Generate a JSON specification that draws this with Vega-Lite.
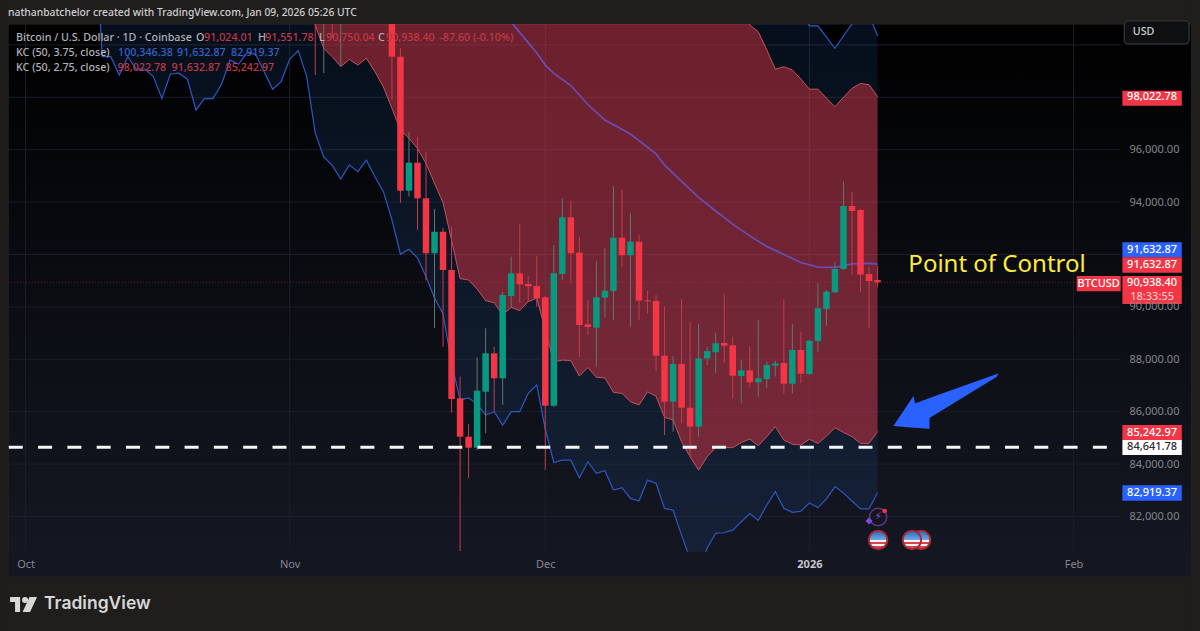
{
  "$schema": "https://vega.github.io/schema/vega-lite/v6.json",
  "width": 1200,
  "height": 631,
  "padding": 0,
  "autosize": {"type": "none"},
  "background": "#1f1e1d",
  "config": {"view": {"stroke": null}},
  "datasets": {
    "candles": [
      {"t":"2025-11-04","open":101256,"close":100950,"high":101500,"low":98851,"dir":"down"},
      {"t":"2025-11-05","open":100950,"close":101300,"high":101600,"low":98927,"dir":"up"},
      {"t":"2025-11-06","open":101523,"close":101141,"high":101700,"low":100263,"dir":"down"},
      {"t":"2025-11-07","open":101141,"close":101408,"high":101700,"low":99195,"dir":"up"},
      {"t":"2025-11-13","open":101256,"close":99550,"high":101600,"low":97897,"dir":"down"},
      {"t":"2025-11-14","open":99550,"close":94435,"high":99882,"low":93966,"dir":"down"},
      {"t":"2025-11-15","open":94435,"close":95504,"high":96687,"low":94206,"dir":"up"},
      {"t":"2025-11-16","open":95504,"close":94145,"high":96496,"low":92935,"dir":"down"},
      {"t":"2025-11-17","open":94145,"close":92046,"high":95924,"low":91027,"dir":"down"},
      {"t":"2025-11-18","open":92046,"close":92870,"high":93737,"low":89195,"dir":"up"},
      {"t":"2025-11-19","open":92870,"close":91408,"high":93011,"low":88481,"dir":"down"},
      {"t":"2025-11-20","open":91408,"close":86485,"high":93061,"low":85962,"dir":"down"},
      {"t":"2025-11-21","open":86511,"close":85046,"high":87336,"low":80683,"dir":"down"},
      {"t":"2025-11-22","open":85046,"close":84626,"high":85531,"low":83458,"dir":"down"},
      {"t":"2025-11-23","open":84626,"close":86802,"high":88076,"low":84538,"dir":"up"},
      {"t":"2025-11-24","open":86763,"close":88229,"high":89183,"low":85176,"dir":"up"},
      {"t":"2025-11-25","open":88229,"close":87275,"high":88481,"low":86000,"dir":"down"},
      {"t":"2025-11-26","open":87275,"close":90454,"high":90580,"low":86256,"dir":"up"},
      {"t":"2025-11-27","open":90416,"close":91282,"high":91916,"low":89958,"dir":"up"},
      {"t":"2025-11-28","open":91282,"close":90863,"high":93164,"low":90149,"dir":"down"},
      {"t":"2025-11-29","open":90874,"close":90786,"high":91179,"low":90199,"dir":"down"},
      {"t":"2025-11-30","open":90798,"close":90328,"high":91943,"low":90008,"dir":"down"},
      {"t":"2025-12-01","open":90366,"close":86229,"high":90416,"low":83775,"dir":"down"},
      {"t":"2025-12-02","open":86229,"close":91282,"high":92363,"low":86179,"dir":"up"},
      {"t":"2025-12-03","open":91256,"close":93420,"high":94145,"low":91027,"dir":"up"},
      {"t":"2025-12-04","open":93420,"close":92046,"high":94053,"low":90901,"dir":"down"},
      {"t":"2025-12-05","open":92069,"close":89309,"high":92679,"low":88099,"dir":"down"},
      {"t":"2025-12-06","open":89336,"close":89233,"high":90263,"low":88928,"dir":"down"},
      {"t":"2025-12-07","open":89206,"close":90366,"high":91725,"low":87718,"dir":"up"},
      {"t":"2025-12-08","open":90351,"close":90618,"high":92237,"low":89603,"dir":"up"},
      {"t":"2025-12-09","open":90607,"close":92641,"high":94615,"low":89500,"dir":"up"},
      {"t":"2025-12-10","open":92641,"close":91970,"high":94462,"low":91534,"dir":"down"},
      {"t":"2025-12-11","open":91970,"close":92489,"high":93573,"low":89244,"dir":"up"},
      {"t":"2025-12-12","open":92489,"close":90237,"high":92744,"low":89500,"dir":"down"},
      {"t":"2025-12-13","open":90252,"close":90214,"high":90607,"low":89756,"dir":"down"},
      {"t":"2025-12-14","open":90225,"close":88137,"high":90454,"low":87553,"dir":"down"},
      {"t":"2025-12-15","open":88137,"close":86382,"high":90015,"low":85111,"dir":"down"},
      {"t":"2025-12-16","open":86382,"close":87821,"high":88126,"low":85237,"dir":"up"},
      {"t":"2025-12-17","open":87821,"close":86153,"high":90290,"low":85569,"dir":"down"},
      {"t":"2025-12-18","open":86153,"close":85427,"high":89435,"low":84282,"dir":"down"},
      {"t":"2025-12-19","open":85427,"close":88038,"high":89347,"low":85046,"dir":"up"},
      {"t":"2025-12-20","open":88038,"close":88317,"high":88481,"low":87782,"dir":"up"},
      {"t":"2025-12-21","open":88267,"close":88611,"high":89015,"low":87466,"dir":"up"},
      {"t":"2025-12-22","open":88622,"close":88519,"high":90519,"low":87847,"dir":"down"},
      {"t":"2025-12-23","open":88534,"close":87374,"high":88863,"low":86511,"dir":"down"},
      {"t":"2025-12-24","open":87363,"close":87580,"high":87973,"low":86321,"dir":"up"},
      {"t":"2025-12-25","open":87580,"close":87122,"high":88508,"low":86893,"dir":"down"},
      {"t":"2025-12-26","open":87122,"close":87275,"high":89500,"low":86572,"dir":"up"},
      {"t":"2025-12-27","open":87248,"close":87782,"high":87908,"low":86893,"dir":"up"},
      {"t":"2025-12-28","open":87756,"close":87847,"high":87947,"low":87336,"dir":"up"},
      {"t":"2025-12-29","open":87859,"close":87069,"high":90290,"low":86676,"dir":"down"},
      {"t":"2025-12-30","open":87069,"close":88355,"high":89347,"low":86702,"dir":"up"},
      {"t":"2025-12-31","open":88355,"close":87450,"high":89053,"low":87084,"dir":"down"},
      {"t":"2026-01-01","open":87439,"close":88710,"high":88737,"low":87401,"dir":"up"},
      {"t":"2026-01-02","open":88698,"close":89947,"high":90901,"low":88290,"dir":"up"},
      {"t":"2026-01-03","open":89920,"close":90580,"high":90645,"low":89271,"dir":"up"},
      {"t":"2026-01-04","open":90557,"close":91447,"high":91725,"low":90531,"dir":"up"},
      {"t":"2026-01-05","open":91447,"close":93851,"high":94779,"low":91408,"dir":"up"},
      {"t":"2026-01-06","open":93851,"close":93660,"high":94397,"low":91218,"dir":"down"},
      {"t":"2026-01-07","open":93699,"close":91229,"high":93737,"low":90580,"dir":"down"},
      {"t":"2026-01-08","open":91256,"close":90989,"high":91534,"low":89183,"dir":"down"},
      {"t":"2026-01-09","open":91024,"close":90938,"high":91552,"low":90750,"dir":"down"}
    ],
    "kc375": [
      {"t":"2025-10-09","lo":105530,"up":108000},
      {"t":"2025-10-10","lo":99550,"up":108000},
      {"t":"2025-10-11","lo":99550,"up":108000},
      {"t":"2025-10-12","lo":98850,"up":108000},
      {"t":"2025-10-13","lo":99550,"up":108000},
      {"t":"2025-10-14","lo":99070,"up":108000},
      {"t":"2025-10-15","lo":99080,"up":108000},
      {"t":"2025-10-16","lo":98790,"up":108000},
      {"t":"2025-10-17","lo":97950,"up":108000},
      {"t":"2025-10-18","lo":98890,"up":108000},
      {"t":"2025-10-19","lo":98920,"up":108000},
      {"t":"2025-10-20","lo":98690,"up":108000},
      {"t":"2025-10-21","lo":97520,"up":108000},
      {"t":"2025-10-22","lo":97950,"up":108000},
      {"t":"2025-10-23","lo":97950,"up":108000},
      {"t":"2025-10-24","lo":98500,"up":108000},
      {"t":"2025-10-25","lo":99420,"up":108000},
      {"t":"2025-10-26","lo":99260,"up":108000},
      {"t":"2025-10-27","lo":99700,"up":108000},
      {"t":"2025-10-28","lo":99640,"up":108000},
      {"t":"2025-10-29","lo":98980,"up":108000},
      {"t":"2025-10-30","lo":98310,"up":108000},
      {"t":"2025-10-31","lo":98600,"up":108000},
      {"t":"2025-11-01","lo":99450,"up":108000},
      {"t":"2025-11-02","lo":99780,"up":108000},
      {"t":"2025-11-03","lo":98790,"up":108000},
      {"t":"2025-11-04","lo":96630,"up":108000},
      {"t":"2025-11-05","lo":95720,"up":108000},
      {"t":"2025-11-06","lo":95400,"up":108000},
      {"t":"2025-11-07","lo":94880,"up":108000},
      {"t":"2025-11-08","lo":95420,"up":108000},
      {"t":"2025-11-09","lo":95160,"up":108000},
      {"t":"2025-11-10","lo":95600,"up":108000},
      {"t":"2025-11-11","lo":94970,"up":108000},
      {"t":"2025-11-12","lo":94400,"up":108000},
      {"t":"2025-11-13","lo":93320,"up":108000},
      {"t":"2025-11-14","lo":92010,"up":108000},
      {"t":"2025-11-15","lo":92200,"up":108000},
      {"t":"2025-11-16","lo":91870,"up":108000},
      {"t":"2025-11-17","lo":91150,"up":108000},
      {"t":"2025-11-18","lo":90340,"up":108000},
      {"t":"2025-11-19","lo":89730,"up":108000},
      {"t":"2025-11-20","lo":87860,"up":108000},
      {"t":"2025-11-21","lo":86450,"up":108000},
      {"t":"2025-11-22","lo":86530,"up":108000},
      {"t":"2025-11-23","lo":86290,"up":108000},
      {"t":"2025-11-24","lo":85870,"up":108000},
      {"t":"2025-11-25","lo":86000,"up":108000},
      {"t":"2025-11-26","lo":85490,"up":108000},
      {"t":"2025-11-27","lo":86000,"up":108000},
      {"t":"2025-11-28","lo":86000,"up":108000},
      {"t":"2025-11-29","lo":86700,"up":108000},
      {"t":"2025-11-30","lo":87020,"up":108000},
      {"t":"2025-12-01","lo":85340,"up":108000},
      {"t":"2025-12-02","lo":84060,"up":108000},
      {"t":"2025-12-03","lo":84150,"up":108000},
      {"t":"2025-12-04","lo":84150,"up":108000},
      {"t":"2025-12-05","lo":83480,"up":108000},
      {"t":"2025-12-06","lo":84090,"up":108000},
      {"t":"2025-12-07","lo":83650,"up":108000},
      {"t":"2025-12-08","lo":83750,"up":108000},
      {"t":"2025-12-09","lo":83010,"up":108000},
      {"t":"2025-12-10","lo":83100,"up":108000},
      {"t":"2025-12-11","lo":82690,"up":108000},
      {"t":"2025-12-12","lo":82590,"up":108000},
      {"t":"2025-12-13","lo":83390,"up":108000},
      {"t":"2025-12-14","lo":83270,"up":108000},
      {"t":"2025-12-15","lo":82310,"up":108000},
      {"t":"2025-12-16","lo":82240,"up":108000},
      {"t":"2025-12-17","lo":81290,"up":108000},
      {"t":"2025-12-18","lo":80380,"up":108000},
      {"t":"2025-12-19","lo":79770,"up":108000},
      {"t":"2025-12-20","lo":80800,"up":108000},
      {"t":"2025-12-21","lo":81360,"up":108000},
      {"t":"2025-12-22","lo":81380,"up":108000},
      {"t":"2025-12-23","lo":81480,"up":108000},
      {"t":"2025-12-24","lo":81800,"up":108000},
      {"t":"2025-12-25","lo":82110,"up":108000},
      {"t":"2025-12-26","lo":81850,"up":108000},
      {"t":"2025-12-27","lo":82440,"up":108000},
      {"t":"2025-12-28","lo":82950,"up":108000},
      {"t":"2025-12-29","lo":82310,"up":108000},
      {"t":"2025-12-30","lo":82160,"up":108000},
      {"t":"2025-12-31","lo":82200,"up":101330},
      {"t":"2026-01-01","lo":82520,"up":100730},
      {"t":"2026-01-02","lo":82340,"up":100730},
      {"t":"2026-01-03","lo":82670,"up":100300},
      {"t":"2026-01-04","lo":83140,"up":99870},
      {"t":"2026-01-05","lo":82900,"up":100340},
      {"t":"2026-01-06","lo":82590,"up":100800},
      {"t":"2026-01-07","lo":82290,"up":101180},
      {"t":"2026-01-08","lo":82290,"up":101140},
      {"t":"2026-01-09","lo":82919,"up":100346}
    ],
    "kc275": [
      {"t":"2025-11-03","lo":102860,"up":104000},
      {"t":"2025-11-04","lo":100760,"up":104000},
      {"t":"2025-11-05","lo":99870,"up":104000},
      {"t":"2025-11-06","lo":99550,"up":104000},
      {"t":"2025-11-07","lo":99170,"up":104000},
      {"t":"2025-11-08","lo":99450,"up":104000},
      {"t":"2025-11-09","lo":99230,"up":104000},
      {"t":"2025-11-10","lo":99490,"up":104000},
      {"t":"2025-11-11","lo":98980,"up":104000},
      {"t":"2025-11-12","lo":98400,"up":104000},
      {"t":"2025-11-13","lo":97580,"up":104000},
      {"t":"2025-11-14","lo":96750,"up":104000},
      {"t":"2025-11-15","lo":96440,"up":104000},
      {"t":"2025-11-16","lo":96050,"up":104000},
      {"t":"2025-11-17","lo":95480,"up":104000},
      {"t":"2025-11-18","lo":94720,"up":104000},
      {"t":"2025-11-19","lo":93980,"up":104000},
      {"t":"2025-11-20","lo":92550,"up":104000},
      {"t":"2025-11-21","lo":91080,"up":104000},
      {"t":"2025-11-22","lo":91030,"up":104000},
      {"t":"2025-11-23","lo":90680,"up":104000},
      {"t":"2025-11-24","lo":90240,"up":104000},
      {"t":"2025-11-25","lo":90160,"up":104000},
      {"t":"2025-11-26","lo":89690,"up":104000},
      {"t":"2025-11-27","lo":89980,"up":104000},
      {"t":"2025-11-28","lo":89860,"up":104000},
      {"t":"2025-11-29","lo":90200,"up":104000},
      {"t":"2025-11-30","lo":90330,"up":104000},
      {"t":"2025-12-01","lo":89120,"up":104000},
      {"t":"2025-12-02","lo":87900,"up":104000},
      {"t":"2025-12-03","lo":87970,"up":104000},
      {"t":"2025-12-04","lo":87950,"up":104000},
      {"t":"2025-12-05","lo":87360,"up":104000},
      {"t":"2025-12-06","lo":87690,"up":104000},
      {"t":"2025-12-07","lo":87310,"up":104000},
      {"t":"2025-12-08","lo":87290,"up":104000},
      {"t":"2025-12-09","lo":86740,"up":104000},
      {"t":"2025-12-10","lo":86700,"up":104000},
      {"t":"2025-12-11","lo":86380,"up":104000},
      {"t":"2025-12-12","lo":86260,"up":104000},
      {"t":"2025-12-13","lo":86760,"up":104000},
      {"t":"2025-12-14","lo":86590,"up":104000},
      {"t":"2025-12-15","lo":85790,"up":104000},
      {"t":"2025-12-16","lo":85680,"up":104000},
      {"t":"2025-12-17","lo":84850,"up":104000},
      {"t":"2025-12-18","lo":84280,"up":104000},
      {"t":"2025-12-19","lo":83770,"up":104000},
      {"t":"2025-12-20","lo":84280,"up":104000},
      {"t":"2025-12-21","lo":84630,"up":104000},
      {"t":"2025-12-22","lo":84630,"up":104000},
      {"t":"2025-12-23","lo":84630,"up":104000},
      {"t":"2025-12-24","lo":84820,"up":101450},
      {"t":"2025-12-25","lo":84960,"up":100760},
      {"t":"2025-12-26","lo":84700,"up":100500},
      {"t":"2025-12-27","lo":85050,"up":99810},
      {"t":"2025-12-28","lo":85430,"up":99070},
      {"t":"2025-12-29","lo":84920,"up":99170},
      {"t":"2025-12-30","lo":84760,"up":99040},
      {"t":"2025-12-31","lo":84730,"up":98700},
      {"t":"2026-01-01","lo":84950,"up":98310},
      {"t":"2026-01-02","lo":84790,"up":98310},
      {"t":"2026-01-03","lo":85070,"up":97970},
      {"t":"2026-01-04","lo":85390,"up":97640},
      {"t":"2026-01-05","lo":85210,"up":98000},
      {"t":"2026-01-06","lo":85050,"up":98340},
      {"t":"2026-01-07","lo":84790,"up":98530},
      {"t":"2026-01-08","lo":84790,"up":98480},
      {"t":"2026-01-09","lo":85243,"up":98023}
    ],
    "basis": [
      {"t":"2025-11-27","p":100870},
      {"t":"2025-11-30","p":99690},
      {"t":"2025-12-01","p":99230},
      {"t":"2025-12-02","p":98910},
      {"t":"2025-12-04","p":98450},
      {"t":"2025-12-06","p":97725},
      {"t":"2025-12-08","p":97130},
      {"t":"2025-12-11","p":96600},
      {"t":"2025-12-14","p":95840},
      {"t":"2025-12-15","p":95420},
      {"t":"2025-12-17","p":94790},
      {"t":"2025-12-19","p":94180},
      {"t":"2025-12-21","p":93660},
      {"t":"2025-12-23","p":93160},
      {"t":"2025-12-25","p":92710},
      {"t":"2025-12-27","p":92310},
      {"t":"2025-12-29","p":92000},
      {"t":"2025-12-31","p":91695},
      {"t":"2026-01-02","p":91520},
      {"t":"2026-01-04","p":91510},
      {"t":"2026-01-06","p":91640},
      {"t":"2026-01-08","p":91660},
      {"t":"2026-01-09","p":91633}
    ]
  },
  "layer": [
    {
      "data": {"values": [{"t":"2025-09-28T22:42:00Z","t2":"2026-02-14T21:00:00Z","p":100798,"p2":79691}]},
      "mark": {"type": "rect", "stroke": "#2b2b2b", "strokeWidth": 1, "color": {"x1": 0, "y1": 0, "x2": 0, "y2": 1, "gradient": "linear", "stops": [{"offset": 0, "color": "#000000"}, {"offset": 0.5, "color": "#0b0d13"}, {"offset": 1, "color": "#151823"}]}},
      "encoding": {
        "x": {"field": "t", "type": "temporal", "scale": {"type": "utc", "domain": [1759017600000, 1771186608000], "padding": 0},
          "axis": {"title": null, "orient": "bottom", "offset": -79.3, "domain": false, "ticks": false, "grid": false, "values": [1759276800000, 1761955200000, 1764547200000, 1767225600000, 1769904000000],
            "labelExpr": "utcmonth(datum.value) == 0 ? '2026' : utcFormat(datum.value, '%b')", "labelFont": "Noto Sans", "labelFontSize": 11, "labelPadding": 7, "labelOverlap": false, "labelFlush": false,
            "labelColor": {"condition": {"test": "utcmonth(datum.value) == 0", "value": "#c4c5c9"}, "value": "#85868c"},
            "labelFontWeight": {"condition": {"test": "utcmonth(datum.value) == 0", "value": 700}, "value": 400}, "zindex": 1}},
        "x2": {"field": "t2"},
        "y": {"field": "p", "type": "quantitative", "scale": {"domain": [77630, 101714], "zero": false, "nice": false},
          "axis": {"title": null, "orient": "right", "offset": -83, "domain": false, "ticks": false, "grid": false, "values": [82000, 84000, 86000, 88000, 90000, 94000, 96000],
            "format": ",.2f", "labelFont": "Noto Sans", "labelFontSize": 11, "labelColor": "#85868c", "labelPadding": 12, "labelAlign": "left", "labelOverlap": false, "labelFlush": false, "zindex": 1}},
        "y2": {"field": "p2"}
      }
    },
    {
      "data": {"values": [
        {"t":"2025-09-28T22:42:00Z","t2":"2026-02-06T13:00:00Z","p":82000},
        {"t":"2025-09-28T22:42:00Z","t2":"2026-02-06T13:00:00Z","p":84000},
        {"t":"2025-09-28T22:42:00Z","t2":"2026-02-06T13:00:00Z","p":86000},
        {"t":"2025-09-28T22:42:00Z","t2":"2026-02-06T13:00:00Z","p":88000},
        {"t":"2025-09-28T22:42:00Z","t2":"2026-02-06T13:00:00Z","p":90000},
        {"t":"2025-09-28T22:42:00Z","t2":"2026-02-06T13:00:00Z","p":92000},
        {"t":"2025-09-28T22:42:00Z","t2":"2026-02-06T13:00:00Z","p":94000},
        {"t":"2025-09-28T22:42:00Z","t2":"2026-02-06T13:00:00Z","p":96000},
        {"t":"2025-09-28T22:42:00Z","t2":"2026-02-06T13:00:00Z","p":98000},
        {"t":"2025-09-28T22:42:00Z","t2":"2026-02-06T13:00:00Z","p":100000}
      ]},
      "mark": {"type": "rule", "color": "#1c1f29", "strokeWidth": 1},
      "encoding": {"x": {"field": "t", "type": "temporal"}, "x2": {"field": "t2"}, "y": {"field": "p", "type": "quantitative"}}
    },
    {
      "data": {"values": [
        {"t":"2025-10-01T00:00:00Z","p":100798,"p2":80656},
        {"t":"2025-11-01T00:00:00Z","p":100798,"p2":80656},
        {"t":"2025-12-01T00:00:00Z","p":100798,"p2":80656},
        {"t":"2026-01-01T00:00:00Z","p":100798,"p2":80656},
        {"t":"2026-02-01T00:00:00Z","p":100798,"p2":80656}
      ]},
      "mark": {"type": "rule", "color": "#1c1f29", "strokeWidth": 1},
      "encoding": {"x": {"field": "t", "type": "temporal"}, "y": {"field": "p", "type": "quantitative"}, "y2": {"field": "p2"}}
    },
    {
      "data": {"name": "kc375"},
      "mark": {"type": "area", "color": "#1e4a86", "opacity": 0.2},
      "encoding": {"x": {"field": "t", "type": "temporal"}, "y": {"field": "lo", "type": "quantitative"}, "y2": {"field": "up"}}
    },
    {
      "data": {"name": "kc275"},
      "mark": {"type": "area", "color": "#f23645", "opacity": 0.44},
      "encoding": {"x": {"field": "t", "type": "temporal"}, "y": {"field": "lo", "type": "quantitative"}, "y2": {"field": "up"}}
    },
    {
      "data": {"name": "kc375"},
      "mark": {"type": "line", "color": "#2f57c4", "strokeWidth": 1.2},
      "encoding": {"x": {"field": "t", "type": "temporal"}, "y": {"field": "lo", "type": "quantitative"}}
    },
    {
      "data": {"name": "kc375"},
      "mark": {"type": "line", "color": "#2f57c4", "strokeWidth": 1.2},
      "encoding": {"x": {"field": "t", "type": "temporal"}, "y": {"field": "up", "type": "quantitative"}}
    },
    {
      "data": {"name": "kc275"},
      "mark": {"type": "line", "color": "#c8505e", "strokeWidth": 1},
      "encoding": {"x": {"field": "t", "type": "temporal"}, "y": {"field": "lo", "type": "quantitative"}}
    },
    {
      "data": {"name": "kc275"},
      "mark": {"type": "line", "color": "#c8505e", "strokeWidth": 1},
      "encoding": {"x": {"field": "t", "type": "temporal"}, "y": {"field": "up", "type": "quantitative"}}
    },
    {
      "data": {"name": "basis"},
      "mark": {"type": "line", "color": "#6a4db5", "strokeWidth": 1.7},
      "encoding": {"x": {"field": "t", "type": "temporal"}, "y": {"field": "p", "type": "quantitative"}}
    },
    {
      "data": {"values": [{"t":"2025-09-28T22:42:00Z","t2":"2026-02-01T09:00:00Z","p":90938}]},
      "mark": {"type": "rule", "color": "#f23645", "opacity": 0.42, "strokeWidth": 1, "strokeDash": [1, 2]},
      "encoding": {"x": {"field": "t", "type": "temporal"}, "x2": {"field": "t2"}, "y": {"field": "p", "type": "quantitative"}}
    },
    {
      "data": {"name": "candles"},
      "mark": {"type": "rule", "strokeWidth": 1},
      "encoding": {
        "x": {"field": "t", "type": "temporal"},
        "y": {"field": "low", "type": "quantitative"},
        "y2": {"field": "high"},
        "color": {"field": "dir", "type": "nominal", "legend": null, "scale": {"domain": ["up", "down"], "range": ["#66756f", "#c33c4c"]}}
      }
    },
    {
      "data": {"name": "candles"},
      "mark": {"type": "bar", "size": 6.5},
      "encoding": {
        "x": {"field": "t", "type": "temporal"},
        "y": {"field": "open", "type": "quantitative"},
        "y2": {"field": "close"},
        "color": {"field": "dir", "type": "nominal", "legend": null, "scale": {"domain": ["up", "down"], "range": ["#089981", "#f23645"]}}
      }
    },
    {
      "data": {"values": [
        {"t":"2025-09-28T00:00:00Z","t2":"2026-02-15T20:17:00Z","p":101714,"p2":100798,"part":"frame"},
        {"t":"2025-09-28T00:00:00Z","t2":"2026-02-15T20:17:00Z","p":79691,"p2":77630,"part":"frame"},
        {"t":"2025-09-28T00:00:00Z","t2":"2025-09-28T22:30:00Z","p":101714,"p2":77630,"part":"frame"},
        {"t":"2026-02-14T21:30:00Z","t2":"2026-02-15T20:17:00Z","p":101714,"p2":77630,"part":"frame"},
        {"t":"2025-09-29T00:00:00Z","t2":"2026-02-14T20:00:00Z","p":80656,"p2":79720,"part":"strip"}
      ]},
      "mark": {"type": "rect"},
      "encoding": {
        "x": {"field": "t", "type": "temporal"},
        "x2": {"field": "t2"},
        "y": {"field": "p", "type": "quantitative"},
        "y2": {"field": "p2"},
        "color": {"field": "part", "type": "nominal", "legend": null, "scale": {"domain": ["frame", "strip"], "range": ["#1f1e1d", "#141722"]}}
      }
    },
    {
      "data": {"values": [{"t":"2025-09-29T00:45:00Z","t2":"2026-02-06T13:00:00Z","p":84641.78}]},
      "mark": {"type": "rule", "color": "#f4f5f7", "strokeWidth": 3, "strokeDash": [14, 15.3]},
      "encoding": {"x": {"field": "t", "type": "temporal"}, "x2": {"field": "t2"}, "y": {"field": "p", "type": "quantitative"}}
    },
    {
      "data": {"values": [
        {"t":"2026-01-10T20:36:00Z","p":85454,"p2":85454},
        {"t":"2026-01-13T05:00:00Z","p":86600,"p2":85390},
        {"t":"2026-01-13T09:42:00Z","p":86320,"p2":85385},
        {"t":"2026-01-14T13:54:00Z","p":86460,"p2":85355},
        {"t":"2026-01-15T02:00:00Z","p":86520,"p2":85340},
        {"t":"2026-01-15T02:20:00Z","p":86520,"p2":85760},
        {"t":"2026-01-22T23:54:00Z","p":87440,"p2":87336},
        {"t":"2026-01-23T04:24:00Z","p":87470,"p2":87470}
      ]},
      "mark": {"type": "area", "color": "#2962ff"},
      "encoding": {"x": {"field": "t", "type": "temporal"}, "y": {"field": "p", "type": "quantitative"}, "y2": {"field": "p2"}}
    },
    {
      "data": {"values": [{"t":"2026-02-06T23:00:00Z","t2":"2026-02-14T13:36:00Z","p":100920,"p2":100030}]},
      "mark": {"type": "rect", "fill": "#0e0f11", "stroke": "#2e2f33", "strokeWidth": 1.5, "cornerRadius": 4},
      "encoding": {"x": {"field": "t", "type": "temporal"}, "x2": {"field": "t2"}, "y": {"field": "p", "type": "quantitative"}, "y2": {"field": "p2"}}
    },
    {
      "data": {"values": [
        {"t":"2026-02-06T17:42:00Z","t2":"2026-02-13T17:00:00Z","p":98252,"p2":97680,"role":"red"},
        {"t":"2026-02-06T17:42:00Z","t2":"2026-02-13T17:00:00Z","p":92466,"p2":91893,"role":"blue"},
        {"t":"2026-02-06T17:42:00Z","t2":"2026-02-13T17:00:00Z","p":91893,"p2":91305,"role":"red"},
        {"t":"2026-02-06T17:42:00Z","t2":"2026-02-13T17:00:00Z","p":91179,"p2":90111,"role":"red"},
        {"t":"2026-02-01T09:00:00Z","t2":"2026-02-06T13:00:00Z","p":91179,"p2":90595,"role":"red"},
        {"t":"2026-02-06T17:42:00Z","t2":"2026-02-13T17:00:00Z","p":85490,"p2":84920,"role":"red"},
        {"t":"2026-02-06T17:42:00Z","t2":"2026-02-13T17:00:00Z","p":84920,"p2":84347,"role":"white"},
        {"t":"2026-02-06T17:42:00Z","t2":"2026-02-13T17:00:00Z","p":83191,"p2":82603,"role":"blue"}
      ]},
      "mark": {"type": "rect"},
      "encoding": {
        "x": {"field": "t", "type": "temporal"},
        "x2": {"field": "t2"},
        "y": {"field": "p", "type": "quantitative"},
        "y2": {"field": "p2"},
        "color": {"field": "role", "type": "nominal", "legend": null, "scale": {"domain": ["red", "blue", "white"], "range": ["#f23645", "#2962ff", "#ffffff"]}}
      }
    },
    {
      "data": {"values": [
        {"t":"2026-02-10T05:24:00Z","p":98022,"label":"98,022.78","role":"light"},
        {"t":"2026-02-10T05:24:00Z","p":92180,"label":"91,632.87","role":"light"},
        {"t":"2026-02-10T05:24:00Z","p":91600,"label":"91,632.87","role":"light"},
        {"t":"2026-02-10T05:24:00Z","p":90912,"label":"90,938.40","role":"light"},
        {"t":"2026-02-10T05:24:00Z","p":90397,"label":"18:33:55","role":"pale"},
        {"t":"2026-02-03T23:00:00Z","p":90875,"label":"BTCUSD","role":"light"},
        {"t":"2026-02-10T05:24:00Z","p":85206,"label":"85,242.97","role":"light"},
        {"t":"2026-02-10T05:24:00Z","p":84634,"label":"84,641.78","role":"dark"},
        {"t":"2026-02-10T05:24:00Z","p":82897,"label":"82,919.37","role":"light"}
      ]},
      "mark": {"type": "text", "font": "Noto Sans", "fontSize": 11, "fontWeight": 500, "align": "center", "baseline": "middle"},
      "encoding": {
        "x": {"field": "t", "type": "temporal"},
        "y": {"field": "p", "type": "quantitative"},
        "text": {"field": "label"},
        "color": {"field": "role", "type": "nominal", "legend": null, "scale": {"domain": ["light", "pale", "dark"], "range": ["#ffffff", "#f7c5ca", "#2a2b2f"]}}
      }
    },
    {
      "data": {"values": [
        {"t":"2025-09-29T21:14:00Z","p":100282,"label":"Bitcoin / U.S. Dollar · 1D · Coinbase","role":"muted"},
        {"t":"2025-10-21T00:18:00Z","p":100282,"label":"O","role":"muted"},
        {"t":"2025-10-21T22:50:00Z","p":100282,"label":"91,024.01","role":"red"},
        {"t":"2025-10-28T07:00:00Z","p":100282,"label":"H","role":"muted"},
        {"t":"2025-10-29T02:40:00Z","p":100282,"label":"91,551.78","role":"red"},
        {"t":"2025-11-04T10:48:00Z","p":100282,"label":"L","role":"muted"},
        {"t":"2025-11-05T06:30:00Z","p":100282,"label":"90,750.04","role":"red"},
        {"t":"2025-11-11T09:00:00Z","p":100282,"label":"C","role":"muted"},
        {"t":"2025-11-12T07:30:00Z","p":100282,"label":"90,938.40","role":"red"},
        {"t":"2025-11-18T13:40:00Z","p":100282,"label":"-87.60 (-0.10%)","role":"red"},
        {"t":"2025-09-29T21:14:00Z","p":99702,"label":"KC (50, 3.75, close)","role":"muted"},
        {"t":"2025-10-11T20:36:00Z","p":99702,"label":"100,346.38","role":"blue"},
        {"t":"2025-10-18T18:48:00Z","p":99702,"label":"91,632.87","role":"blue"},
        {"t":"2025-10-25T02:54:00Z","p":99702,"label":"82,919.37","role":"blue"},
        {"t":"2025-09-29T21:14:00Z","p":99118,"label":"KC (50, 2.75, close)","role":"muted"},
        {"t":"2025-10-11T19:12:00Z","p":99118,"label":"98,022.78","role":"red"},
        {"t":"2025-10-18T03:18:00Z","p":99118,"label":"91,632.87","role":"red"},
        {"t":"2025-10-24T11:24:00Z","p":99118,"label":"85,242.97","role":"red"},
        {"t":"2026-02-07T23:00:00Z","p":100475,"label":"USD","role":"head"}
      ]},
      "mark": {"type": "text", "font": "Noto Sans", "fontSize": 10.7, "fontWeight": 500, "align": "left", "baseline": "middle"},
      "encoding": {
        "x": {"field": "t", "type": "temporal"},
        "y": {"field": "p", "type": "quantitative"},
        "text": {"field": "label"},
        "color": {"field": "role", "type": "nominal", "legend": null, "scale": {"domain": ["muted", "red", "blue", "head"], "range": ["#b2b3b7", "#c23a48", "#3a62c8", "#cfcfcf"]}}
      }
    },
    {
      "data": {"values": [{"t":"2025-09-28T22:42:00Z","p":101218,"label":"nathanbatchelor created with TradingView.com, Jan 09, 2026 05:26 UTC"}]},
      "mark": {"type": "text", "font": "Noto Sans", "fontSize": 10.3, "fontWeight": 500, "align": "left", "baseline": "middle", "color": "#cfcfcf"},
      "encoding": {"x": {"field": "t", "type": "temporal"}, "y": {"field": "p", "type": "quantitative"}, "text": {"field": "label"}}
    },
    {
      "data": {"values": [{"t":"2026-01-12T14:48:00Z","p":91600,"label":"Point of Control"}]},
      "mark": {"type": "text", "font": "Noto Sans", "fontSize": 24, "align": "left", "baseline": "middle", "color": "#ffeb3b"},
      "encoding": {"x": {"field": "t", "type": "temporal"}, "y": {"field": "p", "type": "quantitative"}, "text": {"field": "label"}}
    },
    {
      "data": {"values": [{"t":"2026-01-09T01:30:00Z","p":81980}]},
      "mark": {"type": "point", "shape": "circle", "size": 300, "filled": false, "color": "#7b3fa8", "strokeWidth": 1.5},
      "encoding": {"x": {"field": "t", "type": "temporal"}, "y": {"field": "p", "type": "quantitative"}}
    },
    {
      "data": {"values": [{"t":"2026-01-09T01:30:00Z","p":81980,"label":"⚡"}]},
      "mark": {"type": "text", "font": "DejaVu Sans", "fontSize": 11, "align": "center", "baseline": "middle", "color": "#8a46bd"},
      "encoding": {"x": {"field": "t", "type": "temporal"}, "y": {"field": "p", "type": "quantitative"}, "text": {"field": "label"}}
    },
    {
      "data": {"values": [{"t":"2026-01-09T19:48:00Z","p":82210}]},
      "mark": {"type": "point", "shape": "circle", "size": 22, "filled": true, "color": "#f23645", "opacity": 1},
      "encoding": {"x": {"field": "t", "type": "temporal"}, "y": {"field": "p", "type": "quantitative"}}
    },
    {
      "data": {"values": [{"t":"2026-01-08T00:00:00Z","p":81830}]},
      "mark": {"type": "point", "shape": "diamond", "size": 50, "filled": true, "color": "#7a4de0", "opacity": 1},
      "encoding": {"x": {"field": "t", "type": "temporal"}, "y": {"field": "p", "type": "quantitative"}}
    },
    {
      "data": {"values": [
        {"t":"2026-01-14T02:36:00Z","p":81103},
        {"t":"2026-01-13T01:00:00Z","p":81103},
        {"t":"2026-01-09T01:30:00Z","p":81103}
      ]},
      "mark": {"type": "point", "shape": "circle", "size": 340, "opacity": 1, "stroke": "#a82c38", "strokeWidth": 2,
        "fill": {"x1": 0, "y1": 0, "x2": 0, "y2": 1, "gradient": "linear", "stops": [
          {"offset": 0, "color": "#2b66b8"}, {"offset": 0.48, "color": "#6aa6e8"}, {"offset": 0.5, "color": "#f5f5f5"}, {"offset": 0.6, "color": "#f5f5f5"}, {"offset": 0.61, "color": "#d8434f"}, {"offset": 0.72, "color": "#d8434f"}, {"offset": 0.73, "color": "#f5f5f5"}, {"offset": 0.84, "color": "#f5f5f5"}, {"offset": 0.85, "color": "#d8434f"}, {"offset": 1, "color": "#d8434f"}]}},
      "encoding": {"x": {"field": "t", "type": "temporal"}, "y": {"field": "p", "type": "quantitative"}}
    },
    {
      "data": {"values": [{"t":"2025-10-03T04:06:00Z","p":78660,"label":"TradingView"}]},
      "mark": {"type": "text", "font": "Inter", "fontSize": 17.5, "fontWeight": 600, "align": "left", "baseline": "middle", "color": "#d8d8d8"},
      "encoding": {"x": {"field": "t", "type": "temporal"}, "y": {"field": "p", "type": "quantitative"}, "text": {"field": "label"}}
    },
    {
      "data": {"values": [
        {"t":"2025-09-29T04:18:00Z","t2":"2025-09-30T08:30:00Z","p":78927,"p2":78737},
        {"t":"2025-09-29T18:24:00Z","t2":"2025-09-30T08:30:00Z","p":78927,"p2":78355}
      ]},
      "mark": {"type": "rect", "color": "#d8d8d8"},
      "encoding": {"x": {"field": "t", "type": "temporal"}, "x2": {"field": "t2"}, "y": {"field": "p", "type": "quantitative"}, "y2": {"field": "p2"}}
    },
    {
      "data": {"values": [{"t":"2025-09-30T22:36:00Z","p":78813}]},
      "mark": {"type": "point", "shape": "circle", "size": 36, "filled": true, "color": "#d8d8d8", "opacity": 1},
      "encoding": {"x": {"field": "t", "type": "temporal"}, "y": {"field": "p", "type": "quantitative"}}
    },
    {
      "data": {"values": [
        {"t":"2025-09-30T15:33:00Z","p":78355,"p2":78355},
        {"t":"2025-10-01T11:18:00Z","p":78927,"p2":78355},
        {"t":"2025-10-01T12:42:00Z","p":78927,"p2":78355},
        {"t":"2025-10-02T08:24:00Z","p":78927,"p2":78927}
      ]},
      "mark": {"type": "area", "color": "#d8d8d8"},
      "encoding": {"x": {"field": "t", "type": "temporal"}, "y": {"field": "p", "type": "quantitative"}, "y2": {"field": "p2"}}
    }
  ],
  "resolve": {"scale": {"color": "independent"}}
}
